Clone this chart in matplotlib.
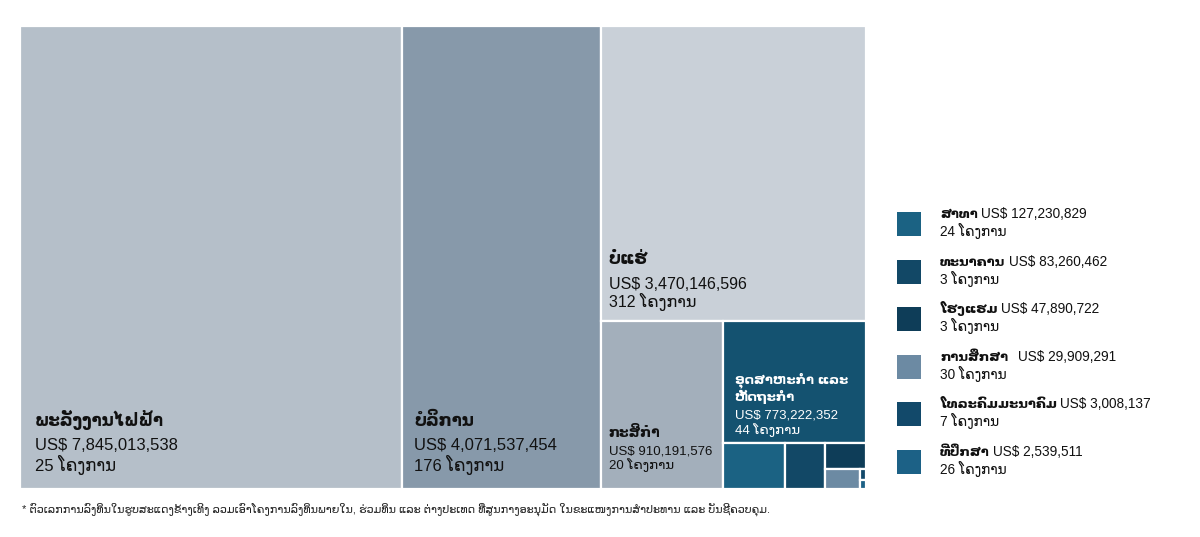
import matplotlib
matplotlib.use("Agg")
import matplotlib.pyplot as plt
from matplotlib.patches import Rectangle

plt.rcParams['font.family'] = ['Liberation Sans', 'DejaVu Sans']

# sectors, investment in US$ and number of projects
sectors = ['ພະລັງງານໄຟຟ້າ', 'ບໍລິການ', 'ບໍ່ແຮ່', 'ກະສິກຳ', 'ອຸດສາຫະກຳ ແລະ\nຫັດຖະກຳ',
           'ສາທາ', 'ທະນາຄານ', 'ໂຮງແຮມ', 'ການສຶກສາ', 'ໂທລະຄົມມະນາຄົມ', 'ທີ່ປຶກສາ']
values = [7845013538, 4071537454, 3470146596, 910191576, 773222352,
          127230829, 83260462, 47890722, 29909291, 3008137, 2539511]
projects = [25, 176, 312, 20, 44, 24, 3, 3, 30, 7, 26]
colors = ['#b5bfc9', '#8799aa', '#c9d0d8', '#a3afbb', '#145270',
          '#1b6283', '#124866', '#0e3d58', '#6c8aa3', '#12496a', '#1c6186']
footnote = ('* ຕົວເລກການລົງທຶນໃນຮູບສະແດງຂ້າງເທິງ ລວມເອົາໂຄງການລົງທຶນພາຍໃນ, ຮ່ວມທຶນ ແລະ '
            'ຕ່າງປະເທດ ທີ່ສູນກາງອະນຸມັດ ໃນຂະແໜງການສຳປະທານ ແລະ ບັນຊີຄວບຄຸມ.')
unit = 'ໂຄງການ'

W, H = 846, 463


# binary treemap: split list in two halves by value, cut along longer side
def binary(idx, x0, y0, x1, y1, out):
    if len(idx) == 1:
        out[idx[0]] = (x0, y0, x1, y1)
        return
    total = sum(values[i] for i in idx)
    best_k, best_d = 1, None
    run = 0
    for k in range(1, len(idx)):
        run += values[idx[k - 1]]
        d = abs(run - total / 2)
        if best_d is None or d < best_d:
            best_k, best_d = k, d
    left = sum(values[i] for i in idx[:best_k])
    if (x1 - x0) >= (y1 - y0) - 1:
        xk = x0 + (x1 - x0) * left / total
        binary(idx[:best_k], x0, y0, xk, y1, out)
        binary(idx[best_k:], xk, y0, x1, y1, out)
    else:
        yk = y0 + (y1 - y0) * left / total
        binary(idx[:best_k], x0, y0, x1, yk, out)
        binary(idx[best_k:], x0, yk, x1, y1, out)


rects = {}
binary(list(range(len(values))), 0, 0, W, H, rects)

fig = plt.figure(figsize=(12, 5.37), dpi=100)
ax = fig.add_axes([20 / 1200, 48 / 537, W / 1200, H / 537])
ax.set_xlim(0, W)
ax.set_ylim(H, 0)
ax.axis('off')

for i in range(len(values)):
    x0, y0, x1, y1 = rects[i]
    ax.add_patch(Rectangle((x0, y0), x1 - x0, y1 - y0, facecolor=colors[i],
                           edgecolor='white', linewidth=1.6))


def money(v):
    return 'US$ {:,}'.format(v)


# labels inside the big boxes: (index, pad x, offsets from bottom, sizes, colour)
inside = [
    (0, 15, (69, 43, 24), (12, 12), '#111111'),
    (1, 12, (69, 43, 24), (12, 12), '#111111'),
    (2, 8, (61, 36, 19), (12, 11.5), '#111111'),
    (3, 8, (56, 38, 24), (10, 9.5), '#111111'),
    (4, 12, (55, 27, 13), (9.5, 9.5), 'white'),
]
for i, px, offs, sizes, col in inside:
    x0, y0, x1, y1 = rects[i]
    ax.text(x0 + px, y1 - offs[0], sectors[i], fontsize=sizes[0], fontweight='bold',
            color=col, va='center', ha='left', linespacing=1.15)
    ax.text(x0 + px, y1 - offs[1], money(values[i]), fontsize=sizes[1],
            color=col, va='center', ha='left')
    ax.text(x0 + px, y1 - offs[2], '{} {}'.format(projects[i], unit), fontsize=sizes[1],
            color=col, va='center', ha='left')

# legend for the small sectors
renderer = fig.canvas.get_renderer()
leg_top = 224
for n, i in enumerate(range(5, len(values))):
    yc = 537 - (leg_top + n * 47.6)
    fig.patches.append(Rectangle((897 / 1200, (yc - 12) / 537), 24 / 1200, 24 / 537,
                                 transform=fig.transFigure, facecolor=colors[i],
                                 edgecolor='none'))
    t = fig.text(940 / 1200, (yc + 6) / 537, sectors[i], fontsize=9.5, fontweight='bold',
                 color='#111111', va='baseline', ha='left')
    bb = t.get_window_extent(renderer)
    gap = 10 if sectors[i] == 'ການສຶກສາ' else 3.5
    fig.text((bb.x1 + gap) / 1200, (yc + 6) / 537, money(values[i]), fontsize=9.8,
             color='#111111', va='baseline', ha='left')
    fig.text(940 / 1200, (yc - 12) / 537, '{} {}'.format(projects[i], unit), fontsize=9.8,
             color='#111111', va='baseline', ha='left')

fig.text(22 / 1200, (537 - 509) / 537, footnote, fontsize=8, color='#222222',
         va='center', ha='left')

fig.savefig('out.png', dpi=100)
